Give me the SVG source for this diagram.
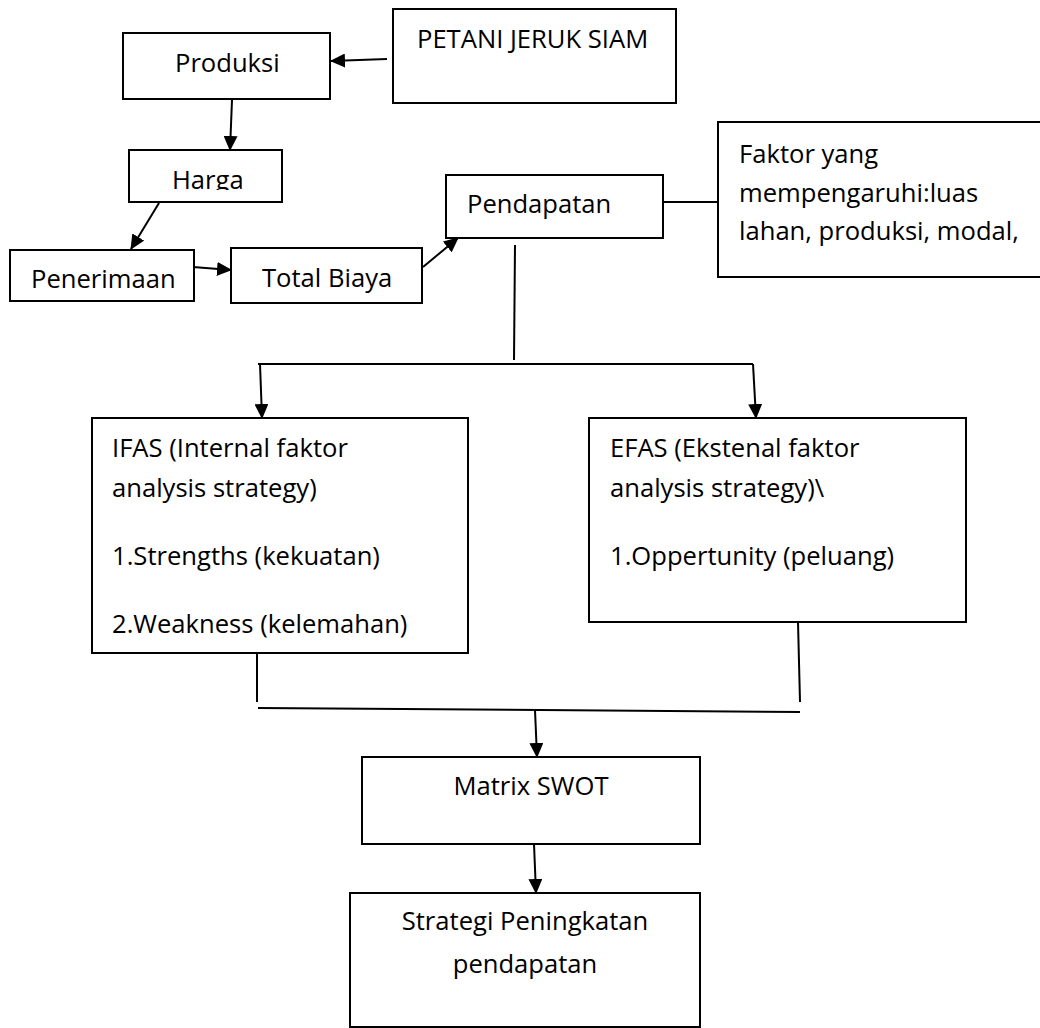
<svg xmlns="http://www.w3.org/2000/svg" width="1040" height="1028" viewBox="0 0 1040 1028">
<style>
.box{fill:#fff;stroke:#000;stroke-width:2}
.t{font-family:"Open Sans","Liberation Sans",sans-serif;font-size:25.6px;fill:#000}
.m{text-anchor:middle}
.c{stroke:#000;stroke-width:2;fill:none}
.a{marker-end:url(#ah)}
</style>
<defs>
<marker id="ah" markerUnits="userSpaceOnUse" markerWidth="15" markerHeight="14" refX="14" refY="7" orient="auto">
<path d="M0,0 L15,7 L0,14 z" fill="#000"/>
</marker>
<clipPath id="hclip"><rect x="129" y="150" width="153" height="40"/></clipPath>
<clipPath id="fclip"><rect x="718" y="122" width="330" height="155"/></clipPath>
</defs>
<rect width="1040" height="1028" fill="#fff"/>
<g id="connectors">
<line class="c a" x1="387" y1="59" x2="331" y2="61"/>
<line class="c a" x1="232" y1="100" x2="230" y2="150"/>
<line class="c a" x1="159" y1="203" x2="131" y2="249"/>
<line class="c a" x1="193" y1="267" x2="231" y2="270"/>
<line class="c a" x1="423" y1="267" x2="458" y2="238"/>
<line class="c" x1="663" y1="202" x2="718" y2="202"/>
<line class="c" x1="515" y1="245" x2="514" y2="360"/>
<line class="c" x1="258" y1="364" x2="753" y2="364"/>
<line class="c a" x1="260" y1="364" x2="262" y2="418"/>
<line class="c a" x1="753" y1="364" x2="756" y2="418"/>
<line class="c" x1="257" y1="653" x2="257" y2="702"/>
<line class="c" x1="798" y1="622" x2="800" y2="702"/>
<line class="c" x1="258" y1="708" x2="800" y2="712"/>
<line class="c a" x1="535" y1="710" x2="537" y2="757"/>
<line class="c a" x1="534" y1="844" x2="536" y2="893"/>
</g>
<g id="petani">
<rect class="box" x="393" y="9" width="283" height="94"/>
<text class="t" x="417" y="48">PETANI JERUK SIAM</text>
</g>
<g id="produksi">
<rect class="box" x="123" y="33" width="207" height="66"/>
<text class="t" x="175" y="72">Produksi</text>
</g>
<g id="harga">
<rect class="box" x="129" y="150" width="153" height="52"/>
<text class="t" x="172" y="189" clip-path="url(#hclip)">Harga</text>
</g>
<g id="penerimaan">
<rect class="box" x="10" y="250" width="184" height="51"/>
<text class="t" x="31" y="288">Penerimaan</text>
</g>
<g id="totalbiaya">
<rect class="box" x="231" y="248" width="191" height="55"/>
<text class="t" x="262" y="287">Total Biaya</text>
</g>
<g id="pendapatan">
<rect class="box" x="446" y="175" width="217" height="63"/>
<text class="t" x="467" y="213">Pendapatan</text>
</g>
<g id="faktor">
<rect class="box" x="718" y="122" width="330" height="155"/>
<g clip-path="url(#fclip)">
<text class="t" x="739" y="163">Faktor yang</text>
<text class="t" x="739" y="202">mempengaruhi:luas</text>
<text class="t" x="739" y="240">lahan, produksi, modal,</text>
</g>
</g>
<g id="ifas">
<rect class="box" x="92" y="418" width="376" height="235"/>
<text class="t" x="112" y="457">IFAS (Internal faktor</text>
<text class="t" x="112" y="497">analysis strategy)</text>
<text class="t" x="112" y="565">1.Strengths (kekuatan)</text>
<text class="t" x="112" y="633">2.Weakness (kelemahan)</text>
</g>
<g id="efas">
<rect class="box" x="589" y="418" width="377" height="204"/>
<text class="t" x="610" y="457">EFAS (Ekstenal faktor</text>
<text class="t" x="610" y="497">analysis strategy)\</text>
<text class="t" x="610" y="565">1.Oppertunity (peluang)</text>
</g>
<g id="matrix">
<rect class="box" x="362" y="757" width="338" height="87"/>
<text class="t m" x="531" y="795">Matrix SWOT</text>
</g>
<g id="strategi">
<rect class="box" x="350" y="893" width="350" height="134"/>
<text class="t m" x="525" y="930">Strategi Peningkatan</text>
<text class="t m" x="525" y="973">pendapatan</text>
</g>
</svg>
